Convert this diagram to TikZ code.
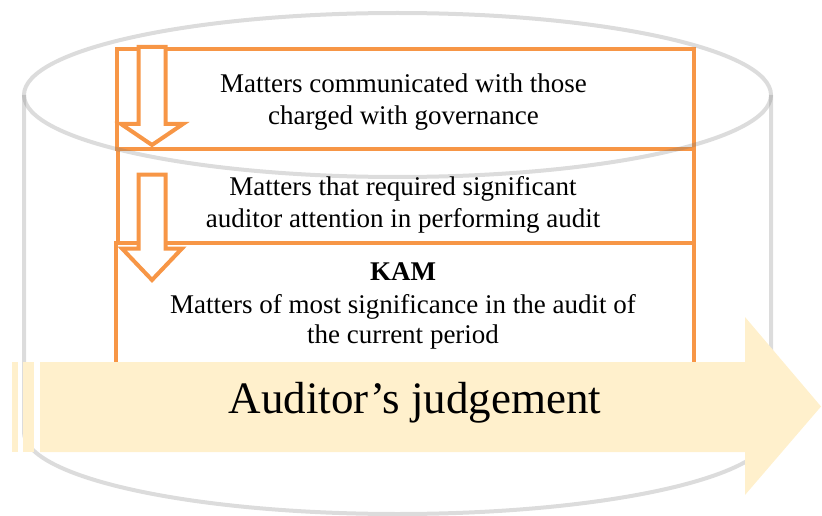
\documentclass[tikz,border=0pt]{standalone}
\usepackage{fontspec}
\setmainfont{Liberation Serif}
\definecolor{kamorange}{HTML}{F79646}
\definecolor{judgefill}{HTML}{FFF0CC}
\begin{document}
\begin{tikzpicture}[x=1pt,y=-1pt,
  boxline/.style={draw=kamorange, line width=4pt, inner sep=0pt, anchor=north west},
  downarrow/.style={draw=kamorange, fill=white, line width=4pt, line join=miter},
  cyl/.style={draw=black!55, draw opacity=0.25, line width=4pt},
  txt/.style={font=\fontsize{27}{32}\selectfont, anchor=base, inner sep=0pt},
]
\useasboundingbox (0,0) rectangle (822,516);
% orange boxes
\node[boxline, minimum width=577pt, minimum height=100pt] (box1) at (115,47) {};
\node[boxline, minimum width=576pt, minimum height=94pt] (box2) at (116,147) {};
\node[boxline, minimum width=578pt, minimum height=160pt] (box3) at (114,241) {};
% down arrows
\draw[downarrow] (138.5,47) -- (165.5,47) -- (165.5,124) -- (183,124) -- (152,145) -- (121,124) -- (138.5,124) -- cycle;
\draw[downarrow] (138.5,174.5) -- (165.5,174.5) -- (165.5,248.5) -- (182,248.5) -- (152,280) -- (122,248.5) -- (138.5,248.5) -- cycle;
% cylinder
\draw[cyl] (397.5,95) ellipse[x radius=373.5pt, y radius=82pt];
\draw[cyl] (24,95) -- (24,432) arc[start angle=180, end angle=360, x radius=373.5pt, y radius=82pt] -- (771,95);
% big striped arrow
\fill[judgefill] (12,362) rectangle (18,452);
\fill[judgefill] (23,362) rectangle (34,452);
\fill[judgefill] (40,362) -- (745,362) -- (745,317) -- (821,406.5) -- (745,495) -- (745,452) -- (40,452) -- cycle;
% texts
\node[txt] (t1a) at (403.5,93) {Matters communicated with those};
\node[txt] (t1b) at (403.5,125) {charged with governance};
\node[txt] (t2a) at (403,195) {Matters that required significant};
\node[txt] (t2b) at (403,227) {auditor attention in performing audit};
\node[txt] (kam) at (403,280) {\bfseries KAM};
\node[txt] (t3a) at (403,313) {Matters of most significance in the audit of};
\node[txt] (t3b) at (403,343) {the current period};
\node[anchor=base, inner sep=0pt, font=\fontsize{45}{54}\selectfont] (judge) at (415,413) {Auditor’s judgement};
\end{tikzpicture}
\end{document}
